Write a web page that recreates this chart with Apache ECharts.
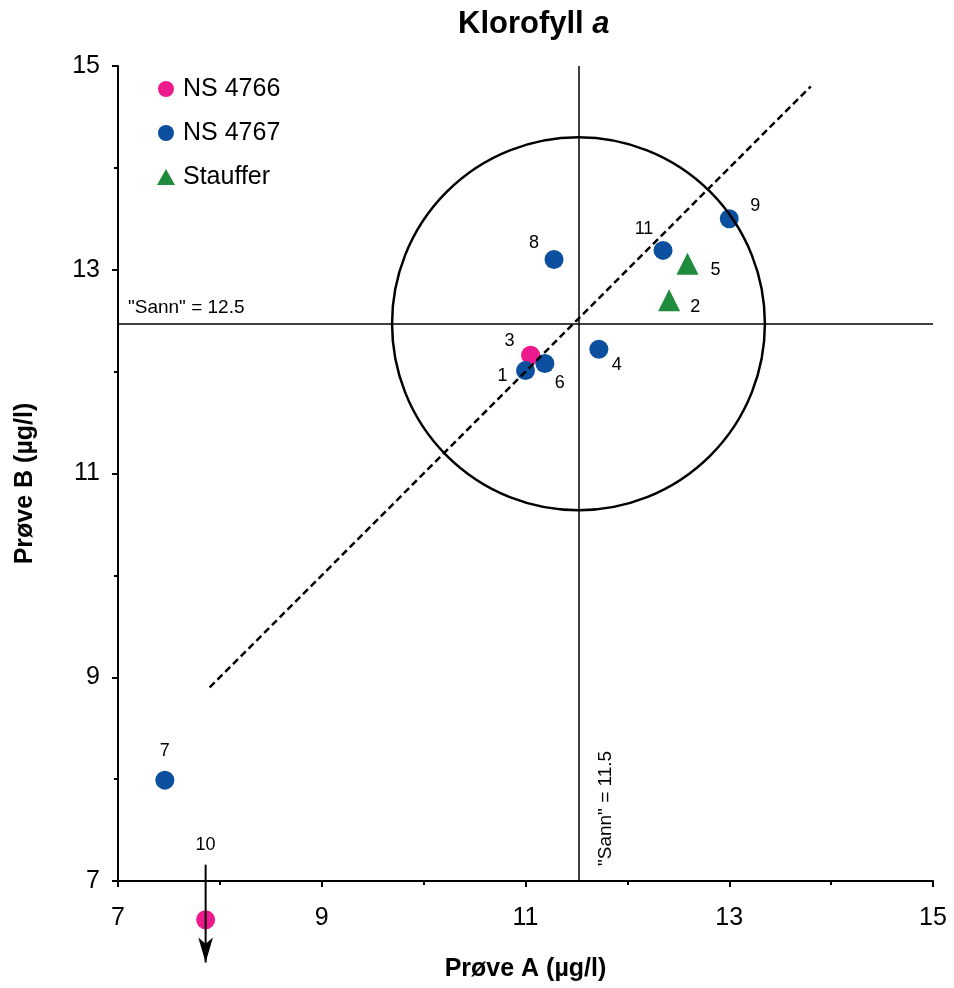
<!DOCTYPE html>
<html><head><meta charset="utf-8">
<script src="https://cdn.jsdelivr.net/npm/echarts@6/dist/echarts.min.js"></script>
<style>html,body{margin:0;padding:0;background:#fff}#c{width:954px;height:988px}</style>
</head><body><div id="c"></div>
<script>
// ---------- data ----------
const ns4766Ids = ['3', '10'];
const ns4766A = [11.05, 7.86];
const ns4766B = [12.16, 6.62];

const ns4767Ids = ['1', '4', '6', '7', '8', '9', '11'];
const ns4767A = [11.00, 11.72, 11.19, 7.46, 11.28, 13.00, 12.35];
const ns4767B = [12.01, 12.22, 12.08, 7.99, 13.10, 13.50, 13.19];

const staufferIds = ['2', '5'];
const staufferA = [12.41, 12.59];
const staufferB = [12.70, 13.06];

const trueA = 11.52;         // "Sann" verdi prøve A
const trueB = 12.47;         // "Sann" verdi prøve B
const circleRadius = 1.83;   // akseptansegrense
const diagonalA = [7.9, 13.8];
const diagonalB = [8.9, 14.8];
const arrowA = [7.86, 7.86]; // pil for verdi utenfor skala (nr. 10)
const arrowB = [7.16, 6.2];

const axisMin = 7, axisMax = 15, axisStep = 2;

// ---------- styling ----------
const FONT = "'Liberation Sans', Arial, Helvetica, sans-serif";
const labelOffsets = {
  '1': [-23, 5], '2': [26, 7], '3': [-21, -14], '4': [18, 16], '5': [28, 6],
  '6': [15, 20], '7': [0, -29], '8': [-20, -17], '9': [26, -13], '10': [0, -75], '11': [-19, -21]
};
const pointData = (ids, a, b) => ids.map((id, i) => ({
  name: id, value: [a[i], b[i]], label: { offset: labelOffsets[id] }
}));
const ptLabel = { show: true, position: 'inside', formatter: '{b}', color: '#000', fontSize: 18, fontFamily: FONT };

const chart = echarts.init(document.getElementById('c'), null, { renderer: 'canvas' });
const axisCommon = {
  type: 'value', min: axisMin, max: axisMax, interval: axisStep,
  axisLine: { show: true, onZero: false, lineStyle: { color: '#000', width: 2 } },
  axisTick: { show: true, length: 6, lineStyle: { color: '#000', width: 2 } },
  minorTick: { show: true, splitNumber: 2, length: 4, lineStyle: { color: '#000', width: 2 } },
  splitLine: { show: false },
  axisLabel: { color: '#000', fontSize: 25, fontFamily: FONT },
  nameLocation: 'middle',
  nameTextStyle: { color: '#000', fontSize: 25, fontWeight: 'bold', fontFamily: FONT }
};

chart.setOption({
  animation: false,
  backgroundColor: '#fff',
  title: {
    text: '{b|Klorofyll }{i|a}', left: 453, top: 4,
    textStyle: { rich: {
      b: { fontSize: 31, fontWeight: 'bold', fontFamily: FONT, color: '#000' },
      i: { fontSize: 31, fontWeight: 'bold', fontStyle: 'italic', fontFamily: FONT, color: '#000' }
    } }
  },
  legend: {
    data: ['NS 4766', 'NS 4767', 'Stauffer'],
    orient: 'vertical', left: 152, top: 71,
    itemWidth: 18, itemHeight: 16, itemGap: 18,
    textStyle: { color: '#000', fontSize: 25, fontFamily: FONT, lineHeight: 26, padding: [0, 0, 0, 3] }
  },
  grid: { left: 118, right: 21, top: 66, bottom: 107, containLabel: false },
  xAxis: Object.assign({}, axisCommon, {
    name: 'Prøve A (µg/l)', nameGap: 76,
    axisLabel: Object.assign({}, axisCommon.axisLabel, { margin: 25 })
  }),
  yAxis: Object.assign({}, axisCommon, {
    name: 'Prøve B (µg/l)', nameGap: 80,
    nameTextStyle: Object.assign({}, axisCommon.nameTextStyle, { padding: [0, 20, 0, 0] }),
    axisLabel: Object.assign({}, axisCommon.axisLabel, { margin: 18 })
  }),
  series: [
    {
      name: 'NS 4766', type: 'scatter', symbol: 'circle', symbolSize: 19, z: 2, clip: false,
      itemStyle: { color: '#EC1A8C', opacity: 1 },
      label: ptLabel,
      data: pointData(ns4766Ids, ns4766A, ns4766B)
    },
    {
      name: 'NS 4767', type: 'scatter', symbol: 'circle', symbolSize: 19, z: 3, clip: false,
      itemStyle: { color: '#0B4F9E', opacity: 1 },
      label: ptLabel,
      data: pointData(ns4767Ids, ns4767A, ns4767B)
    },
    {
      name: 'Stauffer', type: 'scatter', symbol: 'triangle', symbolSize: 22, z: 3, clip: false,
      itemStyle: { color: '#1E8C3C', opacity: 1 },
      label: ptLabel,
      data: pointData(staufferIds, staufferA, staufferB)
    },
    {
      name: 'pil', type: 'line', z: 6, clip: false, silent: true, showSymbol: true,
      lineStyle: { color: '#000', width: 2 },
      itemStyle: { color: '#000' },
      data: [
        { value: [arrowA[0], arrowB[0]], symbol: 'none' },
        { value: [arrowA[1], arrowB[1]], symbol: 'arrow', symbolSize: [11, 25], symbolRotate: 180 }
      ]
    },
    {
      name: 'diagonal', type: 'line', z: 5, symbol: 'none', silent: true,
      lineStyle: { color: '#000', width: 2.5, type: [7, 4] },
      data: diagonalA.map((a, i) => [a, diagonalB[i]]),
      markLine: {
        silent: true, symbol: 'none', z: 4,
        lineStyle: { color: '#000', width: 1.5, type: 'solid' },
        label: { show: true, color: '#000', fontSize: 19, fontFamily: FONT },
        data: [
          [{ coord: [axisMin, trueB], label: { formatter: '"Sann" = ' + trueB.toFixed(1), position: 'insideStartTop', distance: [10, 6] } },
           { coord: [axisMax, trueB] }],
          [{ coord: [trueA, axisMin], label: { formatter: '"Sann" = ' + trueA.toFixed(1), position: 'insideStartBottom', distance: [15, 18] } },
           { coord: [trueA, axisMax] }]
        ]
      }
    },
    {
      name: 'sirkel', type: 'custom', z: 5, silent: true, clip: false,
      data: [[trueA, trueB, circleRadius]],
      renderItem: function (params, api) {
        const c = api.coord([api.value(0), api.value(1)]);
        const r = api.size([api.value(2), 0])[0];
        return { type: 'circle', shape: { cx: c[0], cy: c[1], r: r },
                 style: { fill: 'none', stroke: '#000', lineWidth: 2.5 } };
      }
    }
  ]
});
</script>
</body></html>
